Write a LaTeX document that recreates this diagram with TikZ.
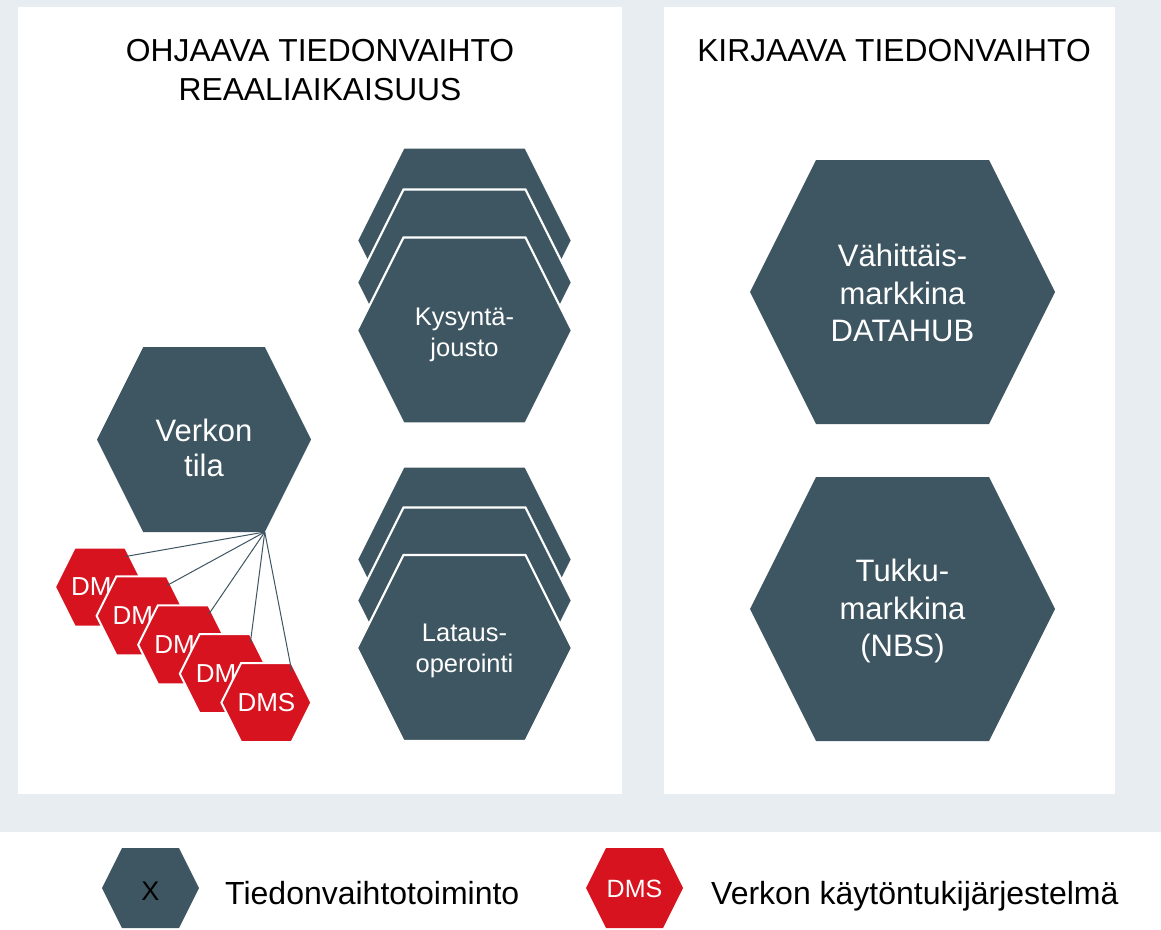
\documentclass[tikz,border=0pt]{standalone}
\usepackage{fontspec}
\setmainfont{Liberation Sans}
\definecolor{bgc}{HTML}{E8EDF1}
\definecolor{slate}{HTML}{3E5661}
\definecolor{dmsred}{HTML}{D6131F}
\newcommand\hexa[6]{% style, name, cx, cy, w, h
  \pgfmathsetmacro\hxw{#5/2}%
  \pgfmathsetmacro\hxh{#6/2}%
  \pgfmathsetmacro\hxo{0.25*min(#5,#6)}%
  \path[#1] (#3-\hxw,#4) -- (#3-\hxw+\hxo,#4-\hxh) -- (#3+\hxw-\hxo,#4-\hxh)
     -- (#3+\hxw,#4) -- (#3+\hxw-\hxo,#4+\hxh) -- (#3-\hxw+\hxo,#4+\hxh) -- cycle;
  \coordinate (#2) at (#3,#4);%
}
\begin{document}
\begin{tikzpicture}[x=1pt,y=-1pt,
  plainhex/.style={fill=slate},
  stackhex/.style={fill=slate, draw=white, line width=2.2pt},
  redhex/.style={fill=dmsred, draw=white, line width=2pt},
  legred/.style={fill=dmsred},
  bigtext/.style={text=white, align=center, inner sep=0pt, font=\fontsize{31}{37.5}\selectfont},
  midtext/.style={text=white, align=center, inner sep=0pt, font=\fontsize{25.5}{31}\selectfont},
  dmstext/.style={text=white, inner sep=0pt, font=\fontsize{26}{30}\selectfont},
  titletext/.style={text=black, align=center, inner sep=0pt, font=\fontsize{31.8}{39}\selectfont},
  legtext/.style={text=black, anchor=base west, inner sep=0pt, font=\fontsize{32}{36}\selectfont},
  link/.style={draw=slate, line width=1pt}]
\useasboundingbox (0,0) rectangle (1161,929);
\fill[bgc] (0,0) rectangle (1161,832);
\fill[white] (18,7) rectangle (622,794);
\fill[white] (664,7) rectangle (1115,794);

% titles
\node[titletext] (t1) at (320,70.5) {OHJAAVA TIEDONVAIHTO\\REAALIAIKAISUUS};
\node[titletext] (t2) at (894,51) {KIRJAAVA TIEDONVAIHTO};

% right panel
\hexa{plainhex}{hv}{902.5}{292}{305}{264}
\node[bigtext] (vah) at (902.5,293) {Vähittäis-\\markkina\\DATAHUB};
\hexa{plainhex}{ht}{902.5}{609}{305}{264}
\node[bigtext] (tuk) at (902.5,611) {Tukku-\\markkina\\(NBS)};

% Kysyntajousto stack
\hexa{stackhex}{hk1}{464.5}{240.5}{215}{186}
\hexa{stackhex}{hk2}{464.5}{282.5}{215}{186}
\hexa{stackhex}{hk3}{464.5}{330.5}{215}{186}
\node[midtext] (kys) at (464.5,334.5) {Kysyntä-\\jousto};

% Latausoperointi stack
\hexa{stackhex}{hl1}{464.5}{559.5}{215}{186}
\hexa{stackhex}{hl2}{464.5}{600.5}{215}{186}
\hexa{stackhex}{hl3}{464.5}{648}{215}{186}
\node[midtext] (lat) at (464.5,650.5) {Lataus-\\operointi};

% Verkon tila
\hexa{plainhex}{hvt}{204}{439.5}{214}{185}
\node[bigtext, font=\fontsize{31}{35}\selectfont] (ver) at (204,448) {Verkon\\tila};
\coordinate (vtbr) at (264.75,532);

% DMS hexes
\foreach \i in {0,...,4}{
  \pgfmathsetmacro\cx{100+41.6*\i}
  \pgfmathsetmacro\cy{587+28.9*\i}
  \hexa{redhex}{hd\i}{\cx}{\cy}{90}{79}
  \node[dmstext] (dms\i) at (\cx,\cy) {DMS};
  \coordinate (de\i) at (\cx+25.5,\cy-30.5);
}
\foreach \i in {0,...,4}{
  \draw[link] (vtbr) -- (de\i);
}

% legend
\hexa{plainhex}{lg1}{150.5}{888}{97}{80}
\node[text=black, inner sep=0pt, font=\fontsize{27}{30}\selectfont] (lx) at (150.5,891) {X};
\node[legtext] (lt1) at (225,904) {Tiedonvaihtotoiminto};
\hexa{legred}{lg2}{634.5}{888}{97}{80}
\node[dmstext, font=\fontsize{25}{30}\selectfont] (ld) at (634.5,889) {DMS};
\node[legtext] (lt2) at (711,904) {Verkon käytöntukijärjestelmä};
\end{tikzpicture}
\end{document}
